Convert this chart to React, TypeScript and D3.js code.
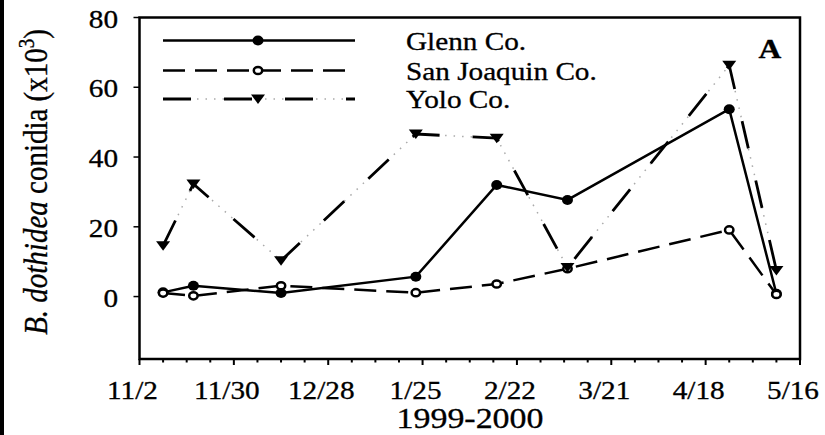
import React, { useRef, useEffect } from 'react'
import * as d3 from 'd3'

// sampling dates and conidia counts (x10^3)
const sampleDates = ['11/9/1999', '11/18/1999', '12/14/1999', '1/23/2000', '2/16/2000', '3/8/2000', '4/25/2000', '5/9/2000']
const glenn = [1.2, 3.1, 1.0, 5.7, 32.0, 27.7, 53.7, 0.8]
const sanJoaquin = [1.0, 0.2, 3.1, 1.1, 3.6, 8.0, 19.1, 0.6]
const yolo = [14.6, 32.3, 10.3, 46.6, 45.4, 8.3, 66.3, 7.5]
const seriesNames = ['Glenn Co.', 'San Joaquin Co.', 'Yolo Co.']

const tickDates = ['11/2/1999', '11/30/1999', '12/28/1999', '1/25/2000', '2/22/2000', '3/21/2000', '4/18/2000', '5/16/2000']
const yTicks = [0, 20, 40, 60, 80]

const W = 825
const H = 435
const SX = 1.17 // the figure is a bit wider than tall, text included
const FONT = '"Liberation Serif", "Times New Roman", serif'

const App: React.FC = () => {
  const svgRef = useRef<SVGSVGElement>(null)

  useEffect(() => {
    if (!svgRef.current) return
    const svg = d3.select(svgRef.current)
    svg.selectAll('*').remove()

    const parse = d3.utcParse('%m/%d/%Y')
    const fmt = d3.utcFormat('%-m/%-d')
    const dates = sampleDates.map(d => parse(d) as Date)
    const ticks = tickDates.map(d => parse(d) as Date)
    const start = ticks[0]
    const end = ticks[ticks.length - 1]

    const left = 139.5, right = 800, top = 17.5, bottom = 359
    const x = d3.scaleUtc().domain([start, end]).range([left, right])
    const y = d3.scaleLinear().domain([-17.9, 80]).range([bottom, top])

    // text is drawn a little heavier and wider, like the scan
    const stretched = (sel: any, px: number, py: number) =>
      sel.attr('transform', `translate(${px},${py}) scale(${SX},1)`)
        .attr('stroke', '#000').attr('stroke-width', 0.3)

    // scan edge on the left
    svg.append('rect').attr('x', 0).attr('y', 0).attr('width', 4).attr('height', H).attr('fill', '#000')

    // frame
    svg.append('rect')
      .attr('x', left).attr('y', top)
      .attr('width', right - left).attr('height', bottom - top)
      .attr('fill', 'none').attr('stroke', '#000').attr('stroke-width', 2.5)

    // x ticks, weekly minor
    const minor = d3.range(0, d3.utcDay.count(start, end) + 1, 7).map(i => d3.utcDay.offset(start, i))
    svg.append('g').selectAll('line').data(minor).enter().append('line')
      .attr('x1', d => x(d)).attr('x2', d => x(d))
      .attr('y1', bottom).attr('y2', d => (ticks.some(t => +t === +d) ? bottom + 6 : bottom + 3.5))
      .attr('stroke', '#000').attr('stroke-width', 2)

    ticks.forEach(t => {
      stretched(svg.append('text'), x(t) - 7, 399)
        .attr('text-anchor', 'middle')
        .attr('font-family', FONT).attr('font-size', 25)
        .text(fmt(t))
    })

    // y ticks
    yTicks.forEach(v => {
      svg.append('line')
        .attr('x1', left - 6).attr('x2', left)
        .attr('y1', y(v)).attr('y2', y(v))
        .attr('stroke', '#000').attr('stroke-width', 1.5)
      stretched(svg.append('text'), 118, y(v) + 10)
        .attr('text-anchor', 'end')
        .attr('font-family', FONT).attr('font-size', 25)
        .text(v)
    })

    // axis titles
    stretched(svg.append('text'), 470, 428)
      .attr('text-anchor', 'middle')
      .attr('font-family', FONT).attr('font-size', 29)
      .text('1999-2000')

    const yl = svg.append('text')
      .attr('transform', `translate(47,182) scale(${SX},1) rotate(-90)`)
      .attr('text-anchor', 'middle')
      .attr('font-family', FONT).attr('font-size', 29)
      .attr('stroke', '#000').attr('stroke-width', 0.3)
    yl.append('tspan').attr('font-style', 'italic').text('B. dothidea')
    yl.append('tspan').text(' conidia (x10')
    yl.append('tspan').attr('font-size', 19).attr('dy', -11).text('3')
    yl.append('tspan').attr('dy', 11).text(')')

    stretched(svg.append('text'), 770, 58)
      .attr('text-anchor', 'middle')
      .attr('font-family', FONT).attr('font-size', 27).attr('font-weight', 'bold')
      .text('A')

    const line = d3.line<[number, number]>().x(d => d[0]).y(d => d[1])
    const pts = (vals: number[]) => vals.map((v, i) => [x(dates[i]), y(v)] as [number, number])

    const drawPath = (g: any, p: [number, number][], kind: number) => {
      if (kind === 2) {
        g.append('path').attr('d', line(p)).attr('fill', 'none')
          .attr('stroke', '#aaa').attr('stroke-width', 1.5).attr('stroke-dasharray', '1.5 7')
        g.append('path').attr('d', line(p)).attr('fill', 'none')
          .attr('stroke', '#000').attr('stroke-width', 2.8).attr('stroke-dasharray', '28 33')
      } else {
        g.append('path').attr('d', line(p)).attr('fill', 'none')
          .attr('stroke', '#000').attr('stroke-width', 2.5)
          .attr('stroke-dasharray', kind === 1 ? '22 10' : null)
      }
    }

    const drawMarker = (g: any, px: number, py: number, kind: number) => {
      if (kind === 0) {
        g.append('ellipse').attr('cx', px).attr('cy', py).attr('rx', 5.5).attr('ry', 5).attr('fill', '#000')
      } else if (kind === 1) {
        g.append('ellipse').attr('cx', px).attr('cy', py).attr('rx', 4.2).attr('ry', 3.6)
          .attr('fill', '#fff').attr('stroke', '#000').attr('stroke-width', 2.5)
      } else {
        g.append('path')
          .attr('d', `M${px - 7},${py - 4.5}L${px + 7},${py - 4.5}L${px},${py + 5}Z`)
          .attr('fill', '#000')
      }
    }

    const series = [glenn, sanJoaquin, yolo]
    const plot = svg.append('g')
    series.forEach((s, k) => drawPath(plot, pts(s), k))
    series.forEach((s, k) => pts(s).forEach(p => drawMarker(plot, p[0], p[1], k)))

    // legend
    const legendY = [40.5, 70.5, 99]
    seriesNames.forEach((name, k) => {
      const g = svg.append('g')
      drawPath(g, [[163, legendY[k]], [355, legendY[k]]], k)
      drawMarker(g, 258, legendY[k], k)
      stretched(g.append('text'), 406, legendY[k] + 9)
        .attr('font-family', FONT).attr('font-size', 25)
        .text(name)
    })
  }, [])

  return (
    <div style={{ position: 'absolute', left: 0, top: 0 }}>
      <svg ref={svgRef} width={W} height={H} style={{ display: 'block', background: '#fff' }} />
    </div>
  )
}

export default App
